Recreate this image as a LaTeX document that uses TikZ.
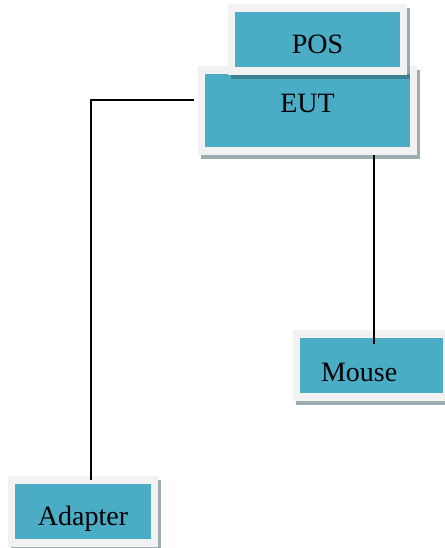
\documentclass[tikz,border=0pt]{standalone}
\usepackage{fontspec}
\setmainfont{Liberation Serif}
\usepackage{xcolor}
\usetikzlibrary{shadows, positioning, calc}

\definecolor{boxteal}{RGB}{75,172,198}
\definecolor{boxframe}{RGB}{242,242,242}
\definecolor{boxshade}{RGB}{55,90,102}

\tikzset{
  unitbox/.style={fill=boxframe, inner sep=0pt, anchor=center,
    font=\fontsize{21}{25}\selectfont,
    drop shadow={shadow xshift=2.25pt, shadow yshift=-3pt, fill=boxshade, opacity=0.5},
    path picture={\fill[boxteal] ([shift={(5.6pt,-6pt)}]path picture bounding box.north west)
      rectangle ([shift={(-5.6pt,6pt)}]path picture bounding box.south east);}},
  wire/.style={line width=1.5pt, black}
}

\begin{document}
\begin{tikzpicture}[x=0.75pt, y=-0.75pt]
\useasboundingbox (0,0) rectangle (444,548);

% EUT first, so the POS shadow lies on it
\node[unitbox, minimum width=164.25pt, minimum height=66.75pt,
  text height=14pt, text depth=11.3pt] (eut) at (307.5,110.5) {EUT};
\node[unitbox, minimum width=134.25pt, minimum height=53.25pt,
  text height=21pt, text depth=0.3pt] (pos) at (317.5,39.5) {POS};

% peripherals
\node[unitbox, minimum width=117.75pt, minimum height=53.25pt,
  text height=24pt, text depth=0.3pt, inner xsep=21pt, text width=75.75pt, align=left] (mouse) at (371.5,365.5) {Mouse};
\node[unitbox, minimum width=112.5pt, minimum height=53.25pt,
  text height=22pt, text depth=0.6pt] (adapter) at (83,511) {Adapter};

% cables
\draw[wire] ([shift={(-4,-10.5)}]eut.west) -| ([shift={(8,5)}]adapter.north);
\coordinate (mousein) at ([shift={(2.5,14)}]mouse.north);
\draw[wire] (mousein |- eut.south) -- (mousein);
\end{tikzpicture}
\end{document}
